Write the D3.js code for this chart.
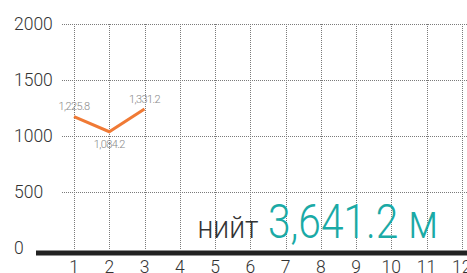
<!DOCTYPE html>
<html><head><meta charset="utf-8">
<script src="https://cdn.jsdelivr.net/npm/d3@7/dist/d3.min.js"></script>
<style>
html,body{margin:0;padding:0;background:#fff;}
svg{display:block;font-family:Roboto, "Noto Sans", sans-serif;}
</style></head>
<body>
<svg id="chart" width="467" height="273"></svg>
<script>
const months = [1,2,3,4,5,6,7,8,9,10,11,12];
const yTicks = [0,500,1000,1500,2000];
const lineMonths = [1,2,3];
const lineValues = [1172,1038,1241];
const labelValues = ["1,225.8","1,084.2","1,331.2"];
const totalLabel = "нийт";
const totalValue = "3,641.2 м";

const svg = d3.select("#chart");
const x = d3.scaleLinear().domain([1,12]).range([74,461.75]);
const y = d3.scaleLinear().domain([0,2000]).range([248,24]);

// horizontal grid
svg.append("g").selectAll("line").data(yTicks.filter(d=>d>0)).join("line")
  .attr("x1",62).attr("x2",467)
  .attr("y1",d=>y(d)+0.5).attr("y2",d=>y(d)+0.5)
  .attr("stroke","#7a7a7a").attr("stroke-width",1).attr("stroke-dasharray","1,1");
// vertical grid
svg.append("g").selectAll("line").data(months).join("line")
  .attr("x1",d=>Math.round(x(d))+0.5).attr("x2",d=>Math.round(x(d))+0.5)
  .attr("y1",y(2000)).attr("y2",y(0)+2)
  .attr("stroke","#7a7a7a").attr("stroke-width",1).attr("stroke-dasharray","1,1");

// y labels
svg.append("g").selectAll("text").data(yTicks).join("text")
  .attr("x",14).attr("y",d=>y(d)+1)
  .attr("dominant-baseline","middle")
  .attr("font-size",17.5).attr("font-weight",300).attr("fill","#333")
  .text(d=>d);

// x labels
svg.append("g").selectAll("text").data(months).join("text")
  .attr("x",d=>x(d)).attr("y",272.5)
  .attr("text-anchor","middle")
  .attr("font-size",17.5).attr("font-weight",300).attr("fill","#333")
  .text(d=>d);

// thick baseline
svg.append("rect").attr("x",36).attr("y",y(0)+2.5).attr("width",467-36).attr("height",5).attr("fill","#222");

// line
const pts = lineMonths.map((m,i)=>[m,lineValues[i],labelValues[i]]);
svg.append("path").datum(pts)
  .attr("d",d3.line().x(d=>x(d[0])).y(d=>y(d[1])))
  .attr("fill","none").attr("stroke","#f07a35").attr("stroke-width",3).attr("stroke-linejoin","miter");

// value labels
svg.append("g").selectAll("text").data(pts).join("text")
  .attr("x",d=>x(d[0]))
  .attr("y",(d,i)=> i===1 ? y(d[1])+16 : y(d[1])-6.5)
  .attr("text-anchor","middle")
  .attr("font-size",11).attr("font-weight",300).attr("fill","#888")
  .attr("letter-spacing","-0.6")
  .text(d=>d[2]);

// total
svg.append("text").attr("x",197.5).attr("y",238).attr("font-weight",300)
  .attr("font-size",31).attr("fill","#333")
  .attr("textLength",61).attr("lengthAdjust","spacingAndGlyphs")
  .text(totalLabel);
svg.append("text").attr("x",268).attr("y",238).attr("font-weight",300)
  .attr("font-size",49).attr("fill","#1aaaa6")
  .attr("textLength",170).attr("lengthAdjust","spacingAndGlyphs")
  .text(totalValue);
</script>
</body></html>
